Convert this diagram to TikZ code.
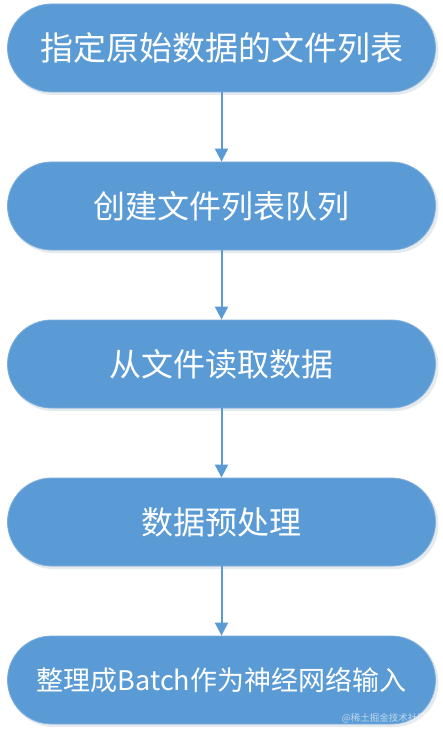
\documentclass[tikz,border=0pt]{standalone}
\usepackage{fontspec}
\setmainfont{Noto Sans CJK SC}
\usetikzlibrary{arrows.meta}
\definecolor{boxblue}{HTML}{5B9BD5}
\definecolor{boxedge}{HTML}{7FAEDD}
\definecolor{arrowblue}{HTML}{5B9BD5}
\definecolor{shadowgray}{HTML}{D5DCE4}
\tikzset{
  stepbox/.style={draw=boxedge, line width=0.8pt, fill=boxblue, rounded corners=44pt,
    minimum width=428pt, minimum height=88pt, inner sep=0pt, text=white, align=center},
  flow/.style={draw=arrowblue, line width=2pt, -{Triangle[width=13pt,length=13pt]}},
  boxshadow/.style={fill=shadowgray, rounded corners=44pt, opacity=0.6}
}
\begin{document}
\begin{tikzpicture}[x=1pt,y=-1pt]
\useasboundingbox (0,0) rectangle (443,738);
\fill[white] (0,0) rectangle (443,738);
% soft shadows
\foreach \t in {4,162,320,478,636}{
  \fill[boxshadow] (9,\t+2) rectangle (438.5,\t+91);
}
\node[stepbox, font=\fontsize{33}{40}\selectfont] (b1) at (221.5,48) {指定原始数据的文件列表};
\node[stepbox, font=\fontsize{32}{38}\selectfont] (b2) at (221.5,206) {创建文件列表队列};
\node[stepbox, font=\fontsize{32}{38}\selectfont] (b3) at (221.5,364) {从文件读取数据};
\node[stepbox, font=\fontsize{32}{38}\selectfont] (b4) at (221.5,522) {数据预处理};
\node[stepbox, font=\fontsize{27}{33}\selectfont] (b5) at (221.5,680) {整理成Batch作为神经网络输入};
\draw[flow] (b1.south) -- (b2.north);
\draw[flow] (b2.south) -- (b3.north);
\draw[flow] (b3.south) -- (b4.north);
\draw[flow] (b4.south) -- (b5.north);
\node[anchor=east, text=white, opacity=0.6, font=\fontsize{9.5}{11}\selectfont, inner sep=0pt] (wm) at (427,718) {@稀土掘金技术社区};
\end{tikzpicture}
\end{document}
